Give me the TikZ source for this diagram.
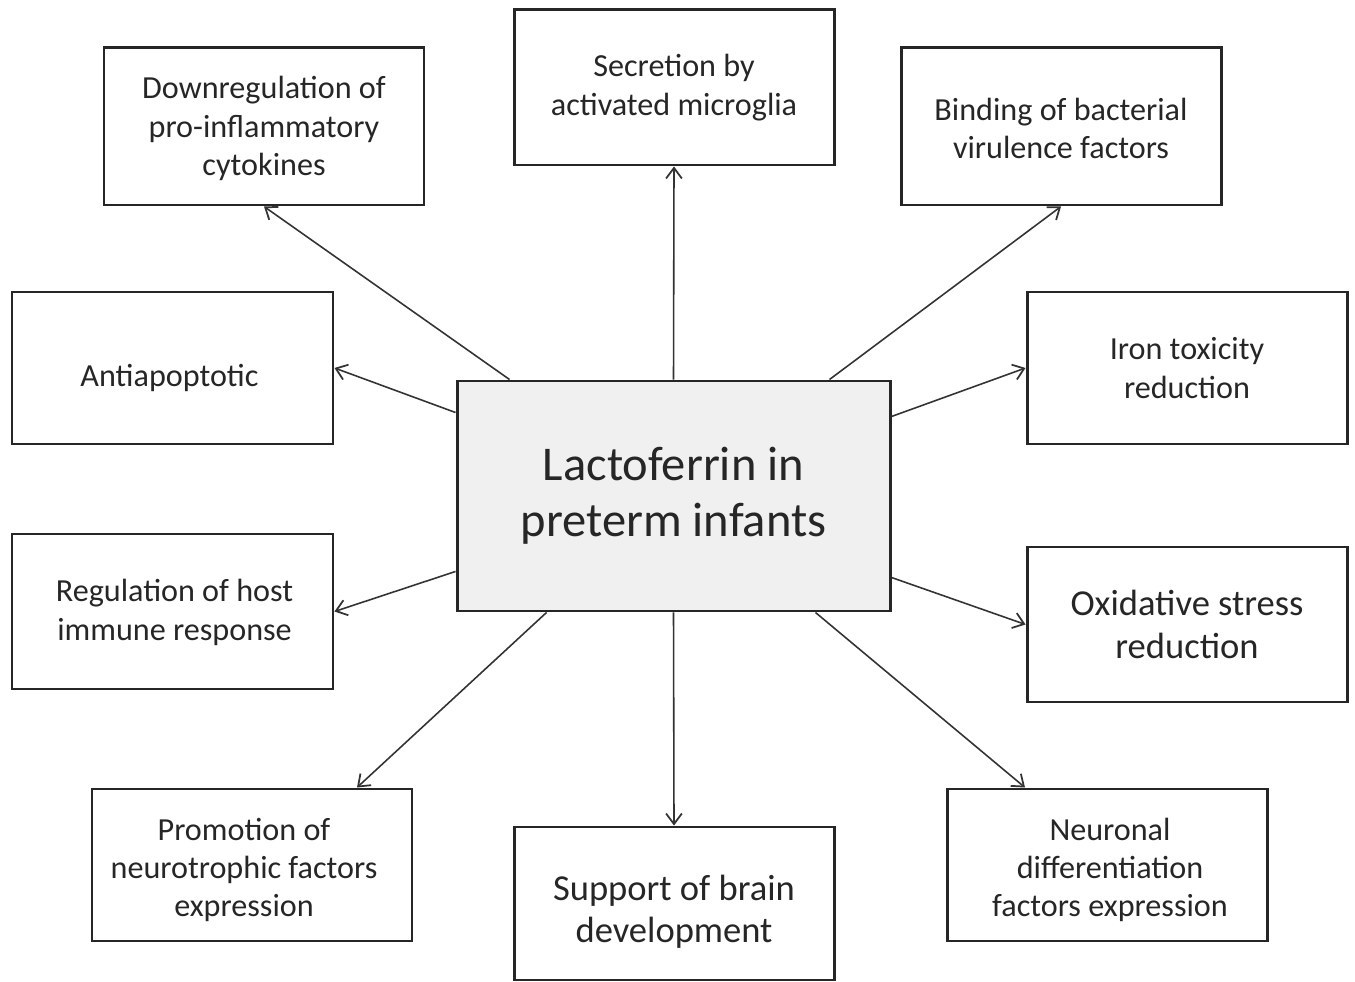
\documentclass[tikz,border=0pt]{standalone}
\usepackage{fontspec}
\setmainfont{Carlito}
\usetikzlibrary{calc,arrows.meta}
\begin{document}
\begin{tikzpicture}[x=0.02cm,y=-0.02cm,
  box/.style={draw=black!85,line width=1.7pt,rectangle,inner sep=0pt},
  txt/.style={align=center,text=black!85,inner sep=0pt},
  arr/.style={draw=black!80,line width=0.9pt,-{Straight Barb[length=6pt,width=9pt,line width=1pt]}},
  fA/.style={font=\fontsize{18.3}{21.8}\selectfont},
  fB/.style={font=\fontsize{20.8}{24}\selectfont},
  fC/.style={font=\fontsize{27.6}{32}\selectfont}]
\useasboundingbox (0,0) rectangle (1355,982);
\node[box,fill=black!6,minimum width=433*0.02cm,minimum height=230*0.02cm] (c) at (673.5,496) {};
\node[box,minimum width=320*0.02cm,minimum height=157*0.02cm] (dn) at (264,126.5) {};
\node[box,minimum width=320*0.02cm,minimum height=155*0.02cm] (sec) at (674,87.5) {};
\node[box,minimum width=320*0.02cm,minimum height=157*0.02cm] (bind) at (1061,126.5) {};
\node[box,minimum width=321*0.02cm,minimum height=152*0.02cm] (anti) at (172.5,368) {};
\node[box,minimum width=320*0.02cm,minimum height=152*0.02cm] (iron) at (1187,368) {};
\node[box,minimum width=321*0.02cm,minimum height=155*0.02cm] (reg) at (172.5,611.5) {};
\node[box,minimum width=320*0.02cm,minimum height=155*0.02cm] (ox) at (1187,624.5) {};
\node[box,minimum width=320*0.02cm,minimum height=152*0.02cm] (prom) at (252,865) {};
\node[box,minimum width=320*0.02cm,minimum height=153*0.02cm] (sup) at (674,903.5) {};
\node[box,minimum width=320*0.02cm,minimum height=152*0.02cm] (neu) at (1107,865) {};
\node[txt,fC] (cT) at (c) {Lactoferrin in\\preterm infants};
\node[txt,fA] (dnT) at ($(dn)+(0,2)$) {Downregulation of\\pro-inflammatory\\cytokines};
\node[txt,fA] (secT) at (sec) {Secretion by\\activated microglia};
\node[txt,fA] (bindT) at ($(bind)+(0,2)$) {Binding of bacterial\\virulence factors};
\node[txt,fA] (antiT) at ($(anti)+(-3,10)$) {Antiapoptotic};
\node[txt,fA] (ironT) at (iron) {Iron toxicity\\reduction};
\node[txt,fA] (regT) at ($(reg)+(2,1)$) {Regulation of host\\immune response};
\node[txt,fB] (oxT) at (ox) {Oxidative stress\\reduction};
\node[txt,fA] (promT) at ($(prom)+(-8,5)$) {Promotion of\\neurotrophic factors\\expression};
\node[txt,fB] (supT) at ($(sup)+(0,8)$) {Support of brain\\development};
\node[txt,fA] (neuT) at ($(neu)+(3,5)$) {Neuronal\\differentiation\\factors expression};
\draw[arr] ($(c.north west)+(54,0)$) -- (dn.south);
\draw[arr] (c.north) -- (sec.south);
\draw[arr] ($(c.north east)+(-62,0)$) -- (bind.south);
\draw[arr] ($(c.north west)+(0,33)$) -- (anti.east);
\draw[arr] ($(c.north east)+(0,37)$) -- (iron.west);
\draw[arr] ($(c.south west)+(0,-41)$) -- (reg.east);
\draw[arr] ($(c.south east)+(0,-35)$) -- (ox.west);
\draw[arr] ($(c.south west)+(91,0)$) -- ($(prom.north)+(105,0)$);
\draw[arr] (c.south) -- (sup.north);
\draw[arr] ($(c.south east)+(-76,0)$) -- ($(neu.north)+(-82,0)$);
\end{tikzpicture}
\end{document}
